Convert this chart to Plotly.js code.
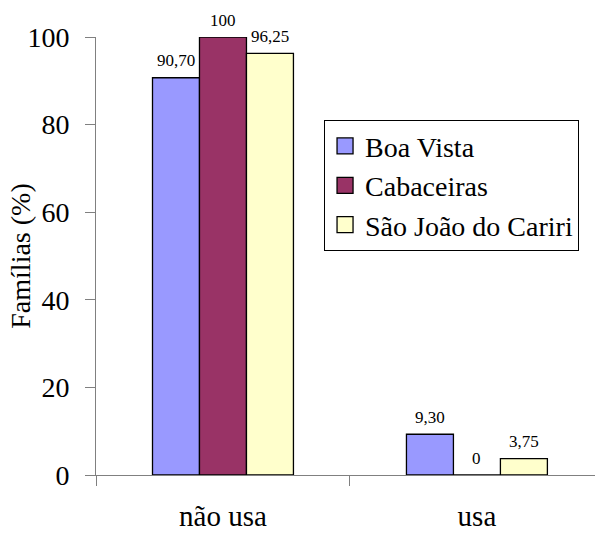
<!DOCTYPE html>
<html>
<head>
<meta charset="utf-8">
<script src="https://cdn.plot.ly/plotly-3.0.1.min.js"></script>
<style>html,body{margin:0;padding:0;background:#fff;}#chart{width:595px;height:536px;}</style>
</head>
<body>
<div id="chart"></div>
<script>
const categories = ["não usa", "usa"];
const seriesNames = ["Boa Vista", "Cabaceiras", "São João do Cariri"];
const boaVista = [90.70, 9.30];
const cabaceiras = [100, 0];
const saoJoao = [96.25, 3.75];
const seriesColors = ["#9999FF", "#993366", "#FFFFCC"];
const yTicks = [0, 20, 40, 60, 80, 100];

const allSeries = [boaVista, cabaceiras, saoJoao];
const bargap = 0.445;
const FONT = "Liberation Serif";

function fmt(v) {
  return Number.isInteger(v) ? String(v) : v.toFixed(2).replace('.', ',');
}

const traces = [];
allSeries.forEach((vals, i) => {
  traces.push({
    type: 'bar', x: categories, y: vals, name: seriesNames[i],
    marker: {color: seriesColors[i], line: {color: '#000', width: 1.3}},
    showlegend: false, hoverinfo: 'none'
  });
});
allSeries.forEach((vals, i) => {
  traces.push({
    type: 'scatter', mode: 'markers', x: [null], y: [null], name: seriesNames[i],
    marker: {symbol: 'square', size: 16, color: seriesColors[i], line: {color: '#000', width: 1.3}},
    showlegend: true, hoverinfo: 'none'
  });
});

const w = (1 - bargap) / allSeries.length;
const annotations = [];
allSeries.forEach((vals, i) => {
  vals.forEach((v, c) => {
    annotations.push({
      x: c + (i - (allSeries.length - 1) / 2) * w, y: v, xref: 'x', yref: 'y',
      text: fmt(v), showarrow: false, yanchor: 'middle', yshift: 17,
      font: {family: FONT, size: 17, color: '#000'}
    });
  });
});

const layout = {
  width: 595, height: 536,
  margin: {l: 96, r: 0, t: 37, b: 61},
  paper_bgcolor: '#fff', plot_bgcolor: '#fff',
  barmode: 'group', bargap: bargap, bargroupgap: 0,
  font: {family: FONT, color: '#000'},
  xaxis: {
    type: 'category', range: [-0.5, 1.465], showgrid: false, zeroline: false,
    showline: true, linecolor: '#808080', linewidth: 1,
    ticks: 'outside', tickson: 'boundaries', ticklen: 10, tickcolor: '#808080', tickwidth: 1,
    tickfont: {family: FONT, size: 29, color: '#000'}, ticklabelstandoff: 15
  },
  yaxis: {
    range: [0, 100], tickvals: yTicks, showgrid: false, zeroline: false,
    showline: true, linecolor: '#808080', linewidth: 1,
    ticks: 'outside', ticklen: 10, tickcolor: '#808080', tickwidth: 1,
    tickfont: {family: FONT, size: 28, color: '#000'}, ticklabelstandoff: 10,
    title: {text: 'Famílias (%)', font: {family: FONT, size: 28, color: '#000'}}
  },
  legend: {
    x: 0.457, y: 0.81, xanchor: 'left', yanchor: 'top',
    bgcolor: '#fff', bordercolor: '#000', borderwidth: 1,
    font: {family: FONT, size: 28, color: '#000'}, itemwidth: 30
  },
  annotations: annotations
};

Plotly.newPlot('chart', traces, layout, {staticPlot: true, displayModeBar: false});
</script>
</body>
</html>
